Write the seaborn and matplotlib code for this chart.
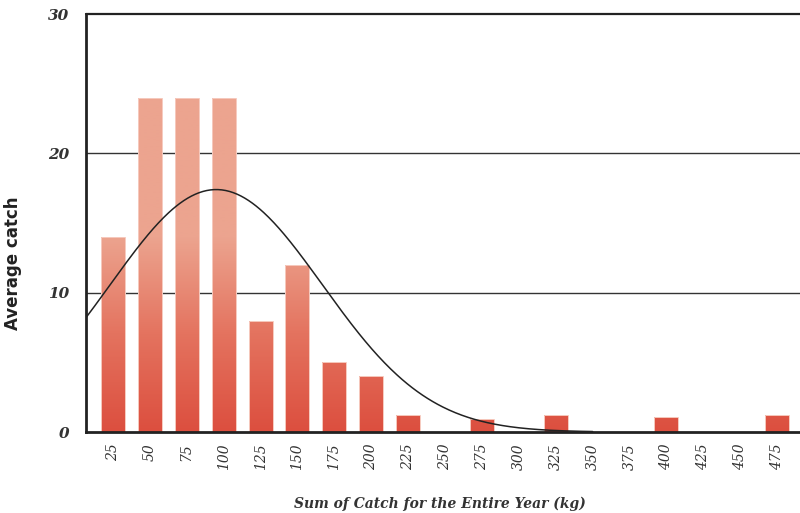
import numpy as np
import pandas as pd
import matplotlib
matplotlib.use("Agg")
import matplotlib.pyplot as plt
import seaborn as sns
from matplotlib.colors import LinearSegmentedColormap

# ---- data ----
catch_bins = [25, 50, 75, 100, 125, 150, 175, 200, 225, 250, 275, 300, 325, 350, 375, 400, 425, 450, 475]
avg_catch = [14, 24, 24, 24, 8, 12, 5, 4, 1.2, 0, 0.9, 0, 1.2, 0, 0, 1.1, 0, 0, 1.2]
y_ticks = [0, 10, 20, 30]
# fitted normal curve parameters (kg)
curve_mean = 95
curve_sd = 72
curve_peak = 17.4
curve_end = 350

df = pd.DataFrame({"bin": [str(b) for b in catch_bins], "avg": avg_catch})

sns.set_theme(style="white")
fig = plt.figure(figsize=(8, 5.13), dpi=100)
ax = fig.add_axes([86 / 800, 1 - 432 / 513, 1 - 86 / 800, (432 - 14) / 513])

sns.barplot(data=df, x="bin", y="avg", order=df["bin"], ax=ax, width=0.65,
            color="#dc5040", saturation=1, errorbar=None)

xlim = (-0.73, len(catch_bins) - 1 + 0.62)
ylim = (0, 30)
ax.set_xlim(*xlim)
ax.set_ylim(*ylim)

# vertical gradient fill for bars
cmap = LinearSegmentedColormap.from_list("g", ["#dc4f3f", "#e4735f", "#eca48f", "#eca48f"])
grad = np.linspace(0, 1, 300).reshape(-1, 1)
yv = grad * 30
cvals = np.clip(yv / 14.0, 0, 1) * 0.667
for p in list(ax.patches):
    im = ax.imshow(cvals, cmap=cmap, vmin=0, vmax=1, origin="lower", aspect="auto",
                   extent=(xlim[0], xlim[1], ylim[0], ylim[1]), zorder=2,
                   interpolation="bilinear")
    im.set_clip_path(p)
    p.set_facecolor("none")
    p.set_edgecolor("#f6cabe")
    p.set_linewidth(0.7)
    p.set_zorder(2.5)
ax.set_xlim(*xlim)
ax.set_ylim(*ylim)

# normal curve
kg = np.linspace(25 + xlim[0] * 25, curve_end, 400)
vals = curve_peak * np.exp(-0.5 * ((kg - curve_mean) / curve_sd) ** 2)
ax.plot((kg - 25) / 25, vals, color="#222222", lw=1.1, zorder=4)

# grid and spines
for v in [10, 20]:
    ax.axhline(v, color="#333333", lw=1.0, zorder=1)
ax.axhline(30, color="#222222", lw=1.6, zorder=5, clip_on=False)
for s in ["top", "right"]:
    ax.spines[s].set_visible(False)
for s in ["left", "bottom"]:
    ax.spines[s].set_color("#222222")
    ax.spines[s].set_linewidth(2)
    ax.spines[s].set_zorder(6)

ax.set_yticks(y_ticks)
ax.set_yticklabels([str(t) for t in y_ticks], fontfamily="DejaVu Serif", fontstyle="italic",
                   fontweight="bold", fontsize=11, color="#333333")
ax.tick_params(axis="y", length=0, pad=12)
ax.set_xticks(range(len(catch_bins)))
ax.set_xticklabels([str(b) for b in catch_bins], rotation=90, fontfamily="DejaVu Serif",
                   fontstyle="italic", fontsize=10, color="#333333")
ax.tick_params(axis="x", length=0, pad=8)

ax.set_xlabel("Sum of Catch for the Entire Year (kg)", fontfamily="DejaVu Serif",
              fontstyle="italic", fontweight="bold", fontsize=10, color="#333333")
ax.xaxis.set_label_coords((440 - 86) / 714, -(497 - 432) / 418)
ax.set_ylabel("Average catch", fontfamily="DejaVu Sans", fontweight="bold", fontsize=12,
              color="#222222")
ax.yaxis.set_label_coords(-(86 - 22) / 714, (432 - 263) / 418)

fig.savefig("out.png", dpi=100)
